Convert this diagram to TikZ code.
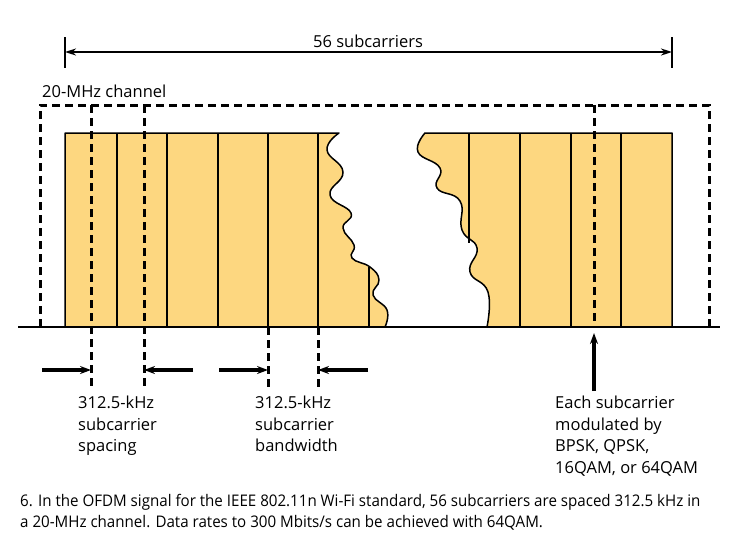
\documentclass[tikz,border=0pt]{standalone}
\usepackage{fontspec}
\setmainfont{Open Sans}
\newfontfamily\capfont[FakeStretch=0.945]{Open Sans}
\usetikzlibrary{arrows.meta}

\definecolor{bandfill}{RGB}{253,215,128}

\begin{document}
\begin{tikzpicture}[
  x=1pt, y=-1pt,
  font=\fontsize{16.5}{21.5}\selectfont,
  every node/.style={inner sep=0pt},
  band/.style={fill=bandfill, draw=black, line width=1.5pt, line join=round},
  divider/.style={draw=black, line width=1.5pt},
  dashln/.style={line width=3pt, dash pattern=on 8pt off 5pt},
  baseln/.style={line width=2.5pt},
  dimarr/.style={-{Stealth[length=11pt, width=8pt]}, line width=3.2pt},
  spanarr/.style={{Stealth[length=11pt, width=7pt]}-{Stealth[length=11pt, width=7pt]}, line width=2pt},
  endtick/.style={line width=2.5pt},
  lbl/.style={align=left, anchor=north west},
]
\useasboundingbox (0,0) rectangle (751,555);

% ------------------------------------------------------------- subcarrier bands
\draw[band] plot[smooth, tension=0.8] coordinates {(339,133) (327,150) (343,172) (330,195) (351,213)
      (343,228) (354,245) (352,258) (370,267) (379,280) (373,295) (387,310) (385,327)}
      -- (65,327) -- (65,133) -- cycle;
\draw[band] plot[smooth, tension=0.8] coordinates {(425,133) (418,152) (440,168) (437,188) (460,201)
      (462,230) (477,248) (470,272) (488,292) (487,327)}
      -- (672,327) -- (672,133) -- cycle;

\foreach \x in {117,167,218,268,318,520,571,621}
  \draw[divider] (\x,133) -- (\x,327);
\draw[divider] (369,267) -- (369,327);
\draw[divider] (469,133) -- (469,243);

% ------------------------------------------------------------- channel + guides
\draw[dashln] (40,327) -- (40,105) -- (709,105) -- (709,327);
\foreach \x in {91,144}
  \draw[dashln] (\x,105) -- (\x,387);
\foreach \x in {268,318}
  \draw[dashln] (\x,327) -- (\x,387);
\draw[dashln] (594,105) -- (594,327);

\draw[baseln] (18,327) -- (720,327);

% ------------------------------------------------------------- span on top
\coordinate (spanL) at (65,52);
\coordinate (spanR) at (672,52);
\draw[endtick] (65,37) -- (65,68);
\draw[endtick] (672,37) -- (672,68);
\draw[spanarr] (spanL) -- (spanR);
\node[anchor=base] (nsub) at (368,47) {56 subcarriers};
\node[anchor=base west] (nchan) at (42,97) {20-MHz channel};

% ------------------------------------------------------------- spacing / bandwidth
\coordinate (spcA) at (91,370);
\coordinate (spcB) at (144,370);
\coordinate (bwA) at (268,370);
\coordinate (bwB) at (318,370);
\draw[dimarr] (42,370) -- (spcA);
\draw[dimarr] (193,370) -- (spcB);
\draw[dimarr] (219,370) -- (bwA);
\draw[dimarr] (368,370) -- (bwB);

\node[lbl] (nspacing) at (78,396) {312.5-kHz\\subcarrier\\spacing};
\node[lbl] (nbw) at (255,396) {312.5-kHz\\subcarrier\\bandwidth};

% ------------------------------------------------------------- modulation
\coordinate (modtip) at (594,333);
\draw[dimarr] (594,391) -- (modtip);
\node[lbl] (nmod) at (555,396) {Each subcarrier\\modulated by\\BPSK, QPSK,\\16QAM, or 64QAM};

% ------------------------------------------------------------- caption
\node[lbl, font=\capfont\fontsize{16}{21}\selectfont] (ncap) at (20,494)
  {6. In the OFDM signal for the IEEE 802.11n Wi-Fi standard, 56 subcarriers are spaced 312.5 kHz in\\
   a 20-MHz channel. Data rates to 300 Mbits/s can be achieved with 64QAM.};

\end{tikzpicture}
\end{document}
